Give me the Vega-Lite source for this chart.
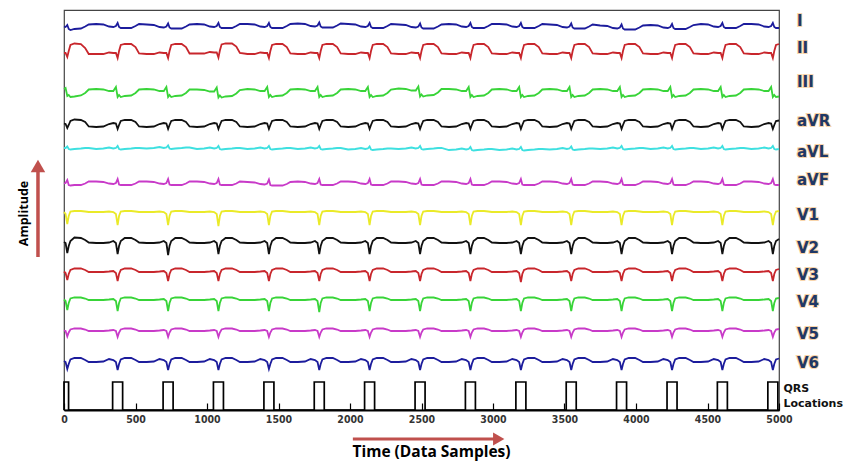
{
  "$schema": "https://vega.github.io/schema/vega-lite/v6.json",
  "width": 715,
  "height": 400,
  "autosize": "none",
  "padding": {"left": 64, "top": 10, "right": 69, "bottom": 52},
  "background": "white",
  "config": {"view": {"stroke": "#444", "strokeWidth": 1.2}},
  "datasets": {
    "ecg": [
      {"t":0,"I":383.5,"II":357,"III":321,"aVR":286.5,"aVL":262,"aVF":226.5,"V1":198,"V2":168,"V3":138.5,"V4":110.5,"V5":79.5,"V6":49},
      {"t":11,"I":383,"II":357,"III":322,"aVR":286,"aVL":262,"aVF":227,"V1":196,"V2":167,"V3":137,"V4":109,"V5":79,"V6":48},
      {"t":23,"I":385,"II":353,"III":314,"aVR":282,"aVL":263.5,"aVF":230,"V1":186,"V2":157,"V3":130,"V4":100,"V5":73.5,"V6":41},
      {"t":33,"I":381,"II":359,"III":315,"aVR":285,"aVL":261,"aVF":225,"V1":194,"V2":164,"V3":136,"V4":107,"V5":77.5,"V6":46},
      {"t":45,"I":380,"II":365,"III":313,"aVR":289,"aVL":260.5,"aVF":224.5,"V1":198.5,"V2":169,"V3":140,"V4":111.5,"V5":80.5,"V6":50.5},
      {"t":73,"I":381,"II":366.5,"III":313.5,"aVR":290.5,"aVL":261,"aVF":225,"V1":199,"V2":172.5,"V3":141.5,"V4":112.5,"V5":81.5,"V6":52},
      {"t":118,"I":381.5,"II":366,"III":314.5,"aVR":290,"aVL":261.5,"aVF":225,"V1":199,"V2":172,"V3":141.5,"V4":112.5,"V5":81.5,"V6":52},
      {"t":148,"I":383.5,"II":362,"III":317,"aVR":288,"aVL":262,"aVF":226.5,"V1":198.5,"V2":170,"V3":140,"V4":111.5,"V5":80.5,"V6":50},
      {"t":173,"I":385.5,"II":356,"III":320.5,"aVR":283.5,"aVL":262,"aVF":228.5,"V1":198,"V2":167.5,"V3":138,"V4":110,"V5":79,"V6":48},

      {"t":225,"I":386,"II":356,"III":321,"aVR":283,"aVL":261,"aVF":228.5,"V1":198,"V2":167,"V3":138,"V4":110,"V5":79,"V6":48},
      {"t":275,"I":385.5,"II":356,"III":320.5,"aVR":283.5,"aVL":261.5,"aVF":228,"V1":198,"V2":167,"V3":138,"V4":110,"V5":79,"V6":48.5},
      {"t":315,"I":383.5,"II":357.5,"III":319,"aVR":286,"aVL":262.5,"aVF":226.5,"V1":198.5,"V2":167.5,"V3":138.5,"V4":110.5,"V5":79.5,"V6":51},
      {"t":345,"I":383,"II":357,"III":319,"aVR":287,"aVL":261.5,"aVF":226,"V1":198,"V2":169,"V3":139,"V4":111,"V5":80,"V6":50},
      {"t":363,"I":384,"II":357,"III":323,"aVR":286.5,"aVL":262,"aVF":227,"V1":196,"V2":167,"V3":137,"V4":109,"V5":79,"V6":48},
      {"t":375,"I":387,"II":352,"III":313,"aVR":281,"aVL":264,"aVF":231,"V1":185,"V2":156,"V3":129,"V4":99,"V5":73,"V6":40},
      {"t":385,"I":383,"II":359,"III":315,"aVR":285,"aVL":261,"aVF":225.5,"V1":194,"V2":164,"V3":136,"V4":107,"V5":77.5,"V6":46},
      {"t":397,"I":382,"II":365,"III":313,"aVR":289,"aVL":260.5,"aVF":225,"V1":198.5,"V2":169,"V3":140,"V4":111.5,"V5":80.5,"V6":50.5},
      {"t":425,"I":382,"II":366,"III":314,"aVR":290,"aVL":261,"aVF":225,"V1":199,"V2":172,"V3":141.5,"V4":112.5,"V5":81.5,"V6":52},
      {"t":470,"I":382,"II":366,"III":314.5,"aVR":290,"aVL":261.5,"aVF":225,"V1":199,"V2":172,"V3":141.5,"V4":112.5,"V5":81.5,"V6":52},
      {"t":500,"I":384,"II":363,"III":317,"aVR":288,"aVL":262,"aVF":226.5,"V1":198.5,"V2":170,"V3":140,"V4":111.5,"V5":80.5,"V6":50},
      {"t":525,"I":386,"II":356.5,"III":320.5,"aVR":283.5,"aVL":262,"aVF":228.5,"V1":198,"V2":167.5,"V3":138,"V4":110,"V5":79,"V6":48},

      {"t":578,"I":385.5,"II":356,"III":321,"aVR":283,"aVL":261.5,"aVF":228.5,"V1":198,"V2":167,"V3":138,"V4":110,"V5":79,"V6":48},
      {"t":628,"I":385,"II":356,"III":320.5,"aVR":283.5,"aVL":262,"aVF":228,"V1":198,"V2":167,"V3":138,"V4":110,"V5":79,"V6":48.5},
      {"t":668,"I":383,"II":357.5,"III":319,"aVR":286,"aVL":263,"aVF":226.5,"V1":198.5,"V2":167.5,"V3":138.5,"V4":110.5,"V5":79.5,"V6":51},
      {"t":698,"I":382.5,"II":357,"III":319,"aVR":287,"aVL":262,"aVF":226,"V1":198,"V2":169,"V3":139,"V4":111,"V5":80,"V6":50},
      {"t":716,"I":383.5,"II":357,"III":323,"aVR":286.5,"aVL":262.5,"aVF":227,"V1":196,"V2":167,"V3":137,"V4":109,"V5":79,"V6":48},
      {"t":728,"I":386.5,"II":352,"III":313,"aVR":281,"aVL":264.5,"aVF":231,"V1":185,"V2":155,"V3":129,"V4":99,"V5":73,"V6":40},
      {"t":738,"I":382.5,"II":359,"III":315,"aVR":285,"aVL":261.5,"aVF":225.5,"V1":194,"V2":164,"V3":136,"V4":107,"V5":77.5,"V6":46},
      {"t":750,"I":381.5,"II":365,"III":313,"aVR":289,"aVL":261,"aVF":225,"V1":198.5,"V2":169,"V3":140,"V4":111.5,"V5":80.5,"V6":50.5},
      {"t":778,"I":381.5,"II":366,"III":314,"aVR":290,"aVL":261.5,"aVF":225,"V1":199,"V2":172,"V3":141.5,"V4":112.5,"V5":81.5,"V6":52},
      {"t":823,"I":381.5,"II":366,"III":314.5,"aVR":290,"aVL":262,"aVF":225,"V1":199,"V2":172,"V3":141.5,"V4":112.5,"V5":81.5,"V6":52},
      {"t":853,"I":383.5,"II":363,"III":317,"aVR":288,"aVL":262.5,"aVF":226.5,"V1":198.5,"V2":170,"V3":140,"V4":111.5,"V5":80.5,"V6":50},
      {"t":878,"I":385.5,"II":356.5,"III":320.5,"aVR":283.5,"aVL":262.5,"aVF":228.5,"V1":198,"V2":167.5,"V3":138,"V4":110,"V5":79,"V6":48},

      {"t":930,"I":386,"II":356.5,"III":320.5,"aVR":283,"aVL":261,"aVF":228.5,"V1":198,"V2":167,"V3":138,"V4":110,"V5":79,"V6":48},
      {"t":980,"I":385.5,"II":356.5,"III":320,"aVR":283.5,"aVL":261.5,"aVF":228,"V1":198,"V2":167,"V3":138,"V4":110,"V5":79,"V6":48.5},
      {"t":1020,"I":383.5,"II":358,"III":318.5,"aVR":286,"aVL":262.5,"aVF":226.5,"V1":198.5,"V2":167.5,"V3":138.5,"V4":110.5,"V5":79.5,"V6":51},
      {"t":1050,"I":383,"II":357.5,"III":318.5,"aVR":287,"aVL":261.5,"aVF":226,"V1":198,"V2":169,"V3":139,"V4":111,"V5":80,"V6":50},
      {"t":1068,"I":384,"II":357.5,"III":322.5,"aVR":286.5,"aVL":262,"aVF":227,"V1":196,"V2":167,"V3":137,"V4":109,"V5":79,"V6":48},
      {"t":1080,"I":387,"II":352.5,"III":312.5,"aVR":281,"aVL":264,"aVF":231,"V1":184,"V2":156,"V3":129,"V4":99,"V5":73,"V6":40},
      {"t":1090,"I":383,"II":359.5,"III":314.5,"aVR":285,"aVL":261,"aVF":225.5,"V1":194,"V2":164,"V3":136,"V4":107,"V5":77.5,"V6":46},
      {"t":1102,"I":382,"II":365.5,"III":312.5,"aVR":289,"aVL":260.5,"aVF":225,"V1":198.5,"V2":169,"V3":140,"V4":111.5,"V5":80.5,"V6":50.5},
      {"t":1130,"I":382,"II":366.5,"III":313.5,"aVR":290,"aVL":261,"aVF":225,"V1":199,"V2":172,"V3":141.5,"V4":112.5,"V5":81.5,"V6":52},
      {"t":1175,"I":382,"II":366.5,"III":314,"aVR":290,"aVL":261.5,"aVF":225,"V1":199,"V2":172,"V3":141.5,"V4":112.5,"V5":81.5,"V6":52},
      {"t":1205,"I":384,"II":363.5,"III":316.5,"aVR":288,"aVL":262,"aVF":226.5,"V1":198.5,"V2":170,"V3":140,"V4":111.5,"V5":80.5,"V6":50},
      {"t":1230,"I":386,"II":357,"III":320,"aVR":283.5,"aVL":262,"aVF":228.5,"V1":198,"V2":167.5,"V3":138,"V4":110,"V5":79,"V6":48},

      {"t":1283,"I":386,"II":356,"III":321,"aVR":283,"aVL":261,"aVF":228,"V1":198,"V2":167,"V3":138,"V4":110,"V5":79,"V6":48},
      {"t":1333,"I":385.5,"II":356,"III":320.5,"aVR":283.5,"aVL":261.5,"aVF":227.5,"V1":198,"V2":167,"V3":138,"V4":110,"V5":79,"V6":48.5},
      {"t":1373,"I":383.5,"II":357.5,"III":319,"aVR":286,"aVL":262.5,"aVF":226,"V1":198.5,"V2":167.5,"V3":138.5,"V4":110.5,"V5":79.5,"V6":51},
      {"t":1403,"I":383,"II":357,"III":319,"aVR":287,"aVL":261.5,"aVF":225.5,"V1":198,"V2":169,"V3":139,"V4":111,"V5":80,"V6":50},
      {"t":1421,"I":384,"II":357,"III":323,"aVR":286.5,"aVL":262,"aVF":226.5,"V1":196,"V2":167,"V3":137,"V4":109,"V5":79,"V6":48},
      {"t":1433,"I":387,"II":352,"III":313,"aVR":281,"aVL":264,"aVF":230.5,"V1":185,"V2":156,"V3":129,"V4":99,"V5":73,"V6":41},
      {"t":1443,"I":383,"II":359,"III":315,"aVR":285,"aVL":261,"aVF":225,"V1":194,"V2":164,"V3":136,"V4":107,"V5":77.5,"V6":46},
      {"t":1455,"I":382,"II":365,"III":313,"aVR":289,"aVL":260.5,"aVF":224.5,"V1":198.5,"V2":169,"V3":140,"V4":111.5,"V5":80.5,"V6":50.5},
      {"t":1483,"I":382,"II":366,"III":314,"aVR":290,"aVL":261,"aVF":224.5,"V1":199,"V2":172,"V3":141.5,"V4":112.5,"V5":81.5,"V6":52},
      {"t":1528,"I":382,"II":366,"III":314.5,"aVR":290,"aVL":261.5,"aVF":224.5,"V1":199,"V2":172,"V3":141.5,"V4":112.5,"V5":81.5,"V6":52},
      {"t":1558,"I":384,"II":363,"III":317,"aVR":288,"aVL":262,"aVF":226,"V1":198.5,"V2":170,"V3":140,"V4":111.5,"V5":80.5,"V6":50},
      {"t":1583,"I":386,"II":356.5,"III":320.5,"aVR":283.5,"aVL":262,"aVF":228,"V1":198,"V2":167.5,"V3":138,"V4":110,"V5":79,"V6":48},

      {"t":1635,"I":386.5,"II":356,"III":321,"aVR":283,"aVL":261,"aVF":228.5,"V1":198,"V2":167,"V3":138,"V4":110,"V5":79,"V6":48},
      {"t":1685,"I":386,"II":356,"III":320.5,"aVR":283.5,"aVL":261.5,"aVF":228,"V1":198,"V2":167,"V3":138,"V4":110,"V5":79,"V6":48.5},
      {"t":1725,"I":384,"II":357.5,"III":319,"aVR":286,"aVL":262.5,"aVF":226.5,"V1":198.5,"V2":167.5,"V3":138.5,"V4":110.5,"V5":79.5,"V6":51},
      {"t":1755,"I":383.5,"II":357,"III":319,"aVR":287,"aVL":261.5,"aVF":226,"V1":198,"V2":169,"V3":139,"V4":111,"V5":80,"V6":50},
      {"t":1773,"I":384.5,"II":357,"III":323,"aVR":286.5,"aVL":262,"aVF":227,"V1":196,"V2":167,"V3":137,"V4":109,"V5":79,"V6":48},
      {"t":1785,"I":387.5,"II":352,"III":313,"aVR":281,"aVL":264,"aVF":231,"V1":185,"V2":156,"V3":129,"V4":98,"V5":73,"V6":40},
      {"t":1795,"I":383.5,"II":359,"III":315,"aVR":285,"aVL":261,"aVF":225.5,"V1":194,"V2":164,"V3":136,"V4":107,"V5":77.5,"V6":46},
      {"t":1807,"I":382.5,"II":365,"III":313,"aVR":289,"aVL":260.5,"aVF":225,"V1":198.5,"V2":169,"V3":140,"V4":111.5,"V5":80.5,"V6":50.5},
      {"t":1835,"I":382.5,"II":366,"III":314,"aVR":290,"aVL":261,"aVF":225,"V1":199,"V2":172,"V3":141.5,"V4":112.5,"V5":81.5,"V6":52},
      {"t":1880,"I":382.5,"II":366,"III":314.5,"aVR":290,"aVL":261.5,"aVF":225,"V1":199,"V2":172,"V3":141.5,"V4":112.5,"V5":81.5,"V6":52},
      {"t":1910,"I":384.5,"II":363,"III":317,"aVR":288,"aVL":262,"aVF":226.5,"V1":198.5,"V2":170,"V3":140,"V4":111.5,"V5":80.5,"V6":50},
      {"t":1935,"I":386.5,"II":356.5,"III":320.5,"aVR":283.5,"aVL":262,"aVF":228.5,"V1":198,"V2":167.5,"V3":138,"V4":110,"V5":79,"V6":48},

      {"t":1987,"I":386,"II":356,"III":321,"aVR":283,"aVL":260.5,"aVF":228.5,"V1":198,"V2":167,"V3":138,"V4":110,"V5":79,"V6":48},
      {"t":2037,"I":385.5,"II":356,"III":320.5,"aVR":283.5,"aVL":261,"aVF":228,"V1":198,"V2":167,"V3":138,"V4":110,"V5":79,"V6":48.5},
      {"t":2077,"I":383.5,"II":357.5,"III":319,"aVR":286,"aVL":262,"aVF":226.5,"V1":198.5,"V2":167.5,"V3":138.5,"V4":110.5,"V5":79.5,"V6":51},
      {"t":2107,"I":383,"II":357,"III":319,"aVR":287,"aVL":261,"aVF":226,"V1":198,"V2":169,"V3":139,"V4":111,"V5":80,"V6":50},
      {"t":2125,"I":384,"II":357,"III":323,"aVR":286.5,"aVL":261.5,"aVF":227,"V1":196,"V2":167,"V3":137,"V4":109,"V5":79,"V6":48},
      {"t":2137,"I":387,"II":352,"III":313,"aVR":281,"aVL":263.5,"aVF":231,"V1":185,"V2":156,"V3":129,"V4":99,"V5":73,"V6":40},
      {"t":2147,"I":383,"II":359,"III":315,"aVR":285,"aVL":260.5,"aVF":225.5,"V1":194,"V2":164,"V3":136,"V4":107,"V5":77.5,"V6":46},
      {"t":2159,"I":382,"II":365,"III":313,"aVR":289,"aVL":260,"aVF":225,"V1":198.5,"V2":169,"V3":140,"V4":111.5,"V5":80.5,"V6":50.5},
      {"t":2187,"I":382,"II":366,"III":314,"aVR":290,"aVL":260.5,"aVF":225,"V1":199,"V2":172,"V3":141.5,"V4":112.5,"V5":81.5,"V6":52},
      {"t":2232,"I":382,"II":366,"III":314.5,"aVR":290,"aVL":261,"aVF":225,"V1":199,"V2":172,"V3":141.5,"V4":112.5,"V5":81.5,"V6":52},
      {"t":2262,"I":384,"II":363,"III":317,"aVR":288,"aVL":261.5,"aVF":226.5,"V1":198.5,"V2":170,"V3":140,"V4":111.5,"V5":80.5,"V6":50},
      {"t":2287,"I":386,"II":356.5,"III":320.5,"aVR":283.5,"aVL":261.5,"aVF":228.5,"V1":198,"V2":167.5,"V3":138,"V4":110,"V5":79,"V6":48},

      {"t":2340,"I":385.5,"II":356,"III":321.5,"aVR":283,"aVL":261,"aVF":228.5,"V1":198,"V2":167,"V3":138,"V4":110,"V5":79,"V6":48},
      {"t":2390,"I":385,"II":356,"III":321,"aVR":283.5,"aVL":261.5,"aVF":228,"V1":198,"V2":167,"V3":138,"V4":110,"V5":79,"V6":48.5},
      {"t":2430,"I":383,"II":357.5,"III":319.5,"aVR":286,"aVL":262.5,"aVF":226.5,"V1":198.5,"V2":167.5,"V3":138.5,"V4":110.5,"V5":79.5,"V6":51},
      {"t":2460,"I":382.5,"II":357,"III":319.5,"aVR":287,"aVL":261.5,"aVF":226,"V1":198,"V2":169,"V3":139,"V4":111,"V5":80,"V6":50},
      {"t":2478,"I":383.5,"II":357,"III":323.5,"aVR":286.5,"aVL":262,"aVF":227,"V1":196,"V2":167,"V3":137,"V4":109,"V5":79,"V6":48},
      {"t":2490,"I":386.5,"II":352,"III":313.5,"aVR":281,"aVL":264,"aVF":231,"V1":185,"V2":156,"V3":129,"V4":99,"V5":73,"V6":40},
      {"t":2500,"I":382.5,"II":359,"III":315.5,"aVR":285,"aVL":261,"aVF":225.5,"V1":194,"V2":164,"V3":136,"V4":107,"V5":77.5,"V6":46},
      {"t":2512,"I":381.5,"II":365,"III":313.5,"aVR":289,"aVL":260.5,"aVF":225,"V1":198.5,"V2":169,"V3":140,"V4":111.5,"V5":80.5,"V6":50.5},
      {"t":2540,"I":381.5,"II":366,"III":314.5,"aVR":290,"aVL":261,"aVF":225,"V1":199,"V2":172,"V3":141.5,"V4":112.5,"V5":81.5,"V6":52},
      {"t":2585,"I":381.5,"II":366,"III":315,"aVR":290,"aVL":261.5,"aVF":225,"V1":199,"V2":172,"V3":141.5,"V4":112.5,"V5":81.5,"V6":52},
      {"t":2615,"I":383.5,"II":363,"III":317.5,"aVR":288,"aVL":262,"aVF":226.5,"V1":198.5,"V2":170,"V3":140,"V4":111.5,"V5":80.5,"V6":50},
      {"t":2640,"I":385.5,"II":356.5,"III":321,"aVR":283.5,"aVL":262,"aVF":228.5,"V1":198,"V2":167.5,"V3":138,"V4":110,"V5":79,"V6":48},

      {"t":2692,"I":386,"II":356,"III":321,"aVR":283,"aVL":260,"aVF":228.5,"V1":198,"V2":167,"V3":138,"V4":110,"V5":79,"V6":48},
      {"t":2742,"I":385.5,"II":356,"III":320.5,"aVR":283.5,"aVL":260.5,"aVF":228,"V1":198,"V2":167,"V3":138,"V4":110,"V5":79,"V6":48.5},
      {"t":2782,"I":383.5,"II":357.5,"III":319,"aVR":286,"aVL":261.5,"aVF":226.5,"V1":198.5,"V2":167.5,"V3":138.5,"V4":110.5,"V5":79.5,"V6":51},
      {"t":2812,"I":383,"II":357,"III":319,"aVR":287,"aVL":260.5,"aVF":226,"V1":198,"V2":169,"V3":139,"V4":111,"V5":80,"V6":50},
      {"t":2830,"I":384,"II":357,"III":323,"aVR":286.5,"aVL":261,"aVF":227,"V1":196,"V2":167,"V3":137,"V4":109,"V5":79,"V6":48},
      {"t":2842,"I":387,"II":352,"III":313,"aVR":281,"aVL":263,"aVF":231,"V1":185,"V2":156,"V3":129,"V4":99,"V5":73,"V6":40},
      {"t":2852,"I":383,"II":359,"III":315,"aVR":285,"aVL":260,"aVF":225.5,"V1":194,"V2":164,"V3":136,"V4":107,"V5":77.5,"V6":46},
      {"t":2864,"I":382,"II":365,"III":313,"aVR":289,"aVL":259.5,"aVF":225,"V1":198.5,"V2":169,"V3":140,"V4":111.5,"V5":80.5,"V6":50.5},
      {"t":2892,"I":382,"II":366,"III":314,"aVR":290,"aVL":260,"aVF":225,"V1":199,"V2":172,"V3":141.5,"V4":112.5,"V5":81.5,"V6":52},
      {"t":2937,"I":382,"II":366,"III":314.5,"aVR":290,"aVL":260.5,"aVF":225,"V1":199,"V2":172,"V3":141.5,"V4":112.5,"V5":81.5,"V6":52},
      {"t":2967,"I":384,"II":363,"III":317,"aVR":288,"aVL":261,"aVF":226.5,"V1":198.5,"V2":170,"V3":140,"V4":111.5,"V5":80.5,"V6":50},
      {"t":2992,"I":386,"II":356.5,"III":320.5,"aVR":283.5,"aVL":261,"aVF":228.5,"V1":198,"V2":167.5,"V3":138,"V4":110,"V5":79,"V6":48},

      {"t":3045,"I":386,"II":356,"III":321,"aVR":283,"aVL":260,"aVF":228.5,"V1":198,"V2":167,"V3":138,"V4":110,"V5":79,"V6":48},
      {"t":3095,"I":385.5,"II":356,"III":320.5,"aVR":283.5,"aVL":260.5,"aVF":228,"V1":198,"V2":167,"V3":138,"V4":110,"V5":79,"V6":48.5},
      {"t":3135,"I":383.5,"II":357.5,"III":319,"aVR":286,"aVL":261.5,"aVF":226.5,"V1":198.5,"V2":167.5,"V3":138.5,"V4":110.5,"V5":79.5,"V6":51},
      {"t":3165,"I":383,"II":357,"III":319,"aVR":287,"aVL":260.5,"aVF":226,"V1":198,"V2":169,"V3":139,"V4":111,"V5":80,"V6":50},
      {"t":3183,"I":384,"II":357,"III":323,"aVR":286.5,"aVL":261,"aVF":227,"V1":196,"V2":167,"V3":137,"V4":109,"V5":79,"V6":48},
      {"t":3195,"I":387,"II":352,"III":313,"aVR":281,"aVL":263,"aVF":231,"V1":185,"V2":156,"V3":128,"V4":99,"V5":73,"V6":40},
      {"t":3205,"I":383,"II":359,"III":315,"aVR":285,"aVL":260,"aVF":225.5,"V1":194,"V2":164,"V3":136,"V4":107,"V5":77.5,"V6":46},
      {"t":3217,"I":382,"II":365,"III":313,"aVR":289,"aVL":259.5,"aVF":225,"V1":198.5,"V2":169,"V3":140,"V4":111.5,"V5":80.5,"V6":50.5},
      {"t":3245,"I":382,"II":366,"III":314,"aVR":290,"aVL":260,"aVF":225,"V1":199,"V2":172,"V3":141.5,"V4":112.5,"V5":81.5,"V6":52},
      {"t":3290,"I":382,"II":366,"III":314.5,"aVR":290,"aVL":260.5,"aVF":225,"V1":199,"V2":172,"V3":141.5,"V4":112.5,"V5":81.5,"V6":52},
      {"t":3320,"I":384,"II":363,"III":317,"aVR":288,"aVL":261,"aVF":226.5,"V1":198.5,"V2":170,"V3":140,"V4":111.5,"V5":80.5,"V6":50},
      {"t":3345,"I":386,"II":356.5,"III":320.5,"aVR":283.5,"aVL":261,"aVF":228.5,"V1":198,"V2":167.5,"V3":138,"V4":110,"V5":79,"V6":48},

      {"t":3397,"I":385.5,"II":356,"III":321,"aVR":283,"aVL":260.5,"aVF":228.5,"V1":198,"V2":167,"V3":138,"V4":110,"V5":79,"V6":48},
      {"t":3447,"I":385,"II":356,"III":320.5,"aVR":283.5,"aVL":261,"aVF":228,"V1":198,"V2":167,"V3":138,"V4":110,"V5":79,"V6":48.5},
      {"t":3487,"I":383,"II":357.5,"III":319,"aVR":286,"aVL":262,"aVF":226.5,"V1":198.5,"V2":167.5,"V3":138.5,"V4":110.5,"V5":79.5,"V6":51},
      {"t":3517,"I":382.5,"II":357,"III":319,"aVR":287,"aVL":261,"aVF":226,"V1":198,"V2":169,"V3":139,"V4":111,"V5":80,"V6":50},
      {"t":3535,"I":383.5,"II":357,"III":323,"aVR":286.5,"aVL":261.5,"aVF":227,"V1":196,"V2":167,"V3":137,"V4":109,"V5":79,"V6":48},
      {"t":3547,"I":386.5,"II":352,"III":313,"aVR":281,"aVL":263.5,"aVF":231,"V1":185,"V2":156,"V3":129,"V4":99,"V5":73,"V6":40},
      {"t":3557,"I":382.5,"II":359,"III":315,"aVR":285,"aVL":260.5,"aVF":225.5,"V1":194,"V2":164,"V3":136,"V4":107,"V5":77.5,"V6":46},
      {"t":3569,"I":381.5,"II":365,"III":313,"aVR":289,"aVL":260,"aVF":225,"V1":198.5,"V2":169,"V3":140,"V4":111.5,"V5":80.5,"V6":50.5},
      {"t":3597,"I":381.5,"II":366,"III":314,"aVR":290,"aVL":260.5,"aVF":225,"V1":199,"V2":172,"V3":141.5,"V4":112.5,"V5":81.5,"V6":52},
      {"t":3642,"I":381.5,"II":366,"III":314.5,"aVR":290,"aVL":261,"aVF":225,"V1":199,"V2":172,"V3":141.5,"V4":112.5,"V5":81.5,"V6":52},
      {"t":3672,"I":383.5,"II":363,"III":317,"aVR":288,"aVL":261.5,"aVF":226.5,"V1":198.5,"V2":170,"V3":140,"V4":111.5,"V5":80.5,"V6":50},
      {"t":3697,"I":385.5,"II":356.5,"III":320.5,"aVR":283.5,"aVL":261.5,"aVF":228.5,"V1":198,"V2":167.5,"V3":138,"V4":110,"V5":79,"V6":48},

      {"t":3749,"I":384.5,"II":356,"III":321,"aVR":283,"aVL":261,"aVF":228.5,"V1":198,"V2":167,"V3":138,"V4":110,"V5":79,"V6":48},
      {"t":3799,"I":384,"II":356,"III":320.5,"aVR":283.5,"aVL":261.5,"aVF":228,"V1":198,"V2":167,"V3":138,"V4":110,"V5":79,"V6":48.5},
      {"t":3839,"I":382,"II":357.5,"III":319,"aVR":286,"aVL":262.5,"aVF":226.5,"V1":198.5,"V2":167.5,"V3":138.5,"V4":110.5,"V5":79.5,"V6":51},
      {"t":3869,"I":381.5,"II":357,"III":319,"aVR":287,"aVL":261.5,"aVF":226,"V1":198,"V2":169,"V3":139,"V4":111,"V5":80,"V6":50},
      {"t":3887,"I":382.5,"II":357,"III":323,"aVR":286.5,"aVL":262,"aVF":227,"V1":196,"V2":167,"V3":137,"V4":109,"V5":79,"V6":48},
      {"t":3899,"I":385.5,"II":352,"III":313,"aVR":281,"aVL":264,"aVF":231,"V1":185,"V2":156,"V3":129,"V4":99,"V5":73,"V6":40},
      {"t":3909,"I":381.5,"II":359,"III":315,"aVR":285,"aVL":261,"aVF":225.5,"V1":194,"V2":164,"V3":136,"V4":107,"V5":77.5,"V6":46},
      {"t":3921,"I":380.5,"II":365,"III":313,"aVR":289,"aVL":260.5,"aVF":225,"V1":198.5,"V2":169,"V3":140,"V4":111.5,"V5":80.5,"V6":50.5},
      {"t":3949,"I":380.5,"II":366,"III":314,"aVR":290,"aVL":261,"aVF":225,"V1":199,"V2":172,"V3":141.5,"V4":112.5,"V5":81.5,"V6":52},
      {"t":3994,"I":380.5,"II":366,"III":314.5,"aVR":290,"aVL":261.5,"aVF":225,"V1":199,"V2":172,"V3":141.5,"V4":112.5,"V5":81.5,"V6":52},
      {"t":4024,"I":382.5,"II":363,"III":317,"aVR":288,"aVL":262,"aVF":226.5,"V1":198.5,"V2":170,"V3":140,"V4":111.5,"V5":80.5,"V6":50},
      {"t":4049,"I":384.5,"II":356.5,"III":320.5,"aVR":283.5,"aVL":262,"aVF":228.5,"V1":198,"V2":167.5,"V3":138,"V4":110,"V5":79,"V6":48},

      {"t":4102,"I":385,"II":356,"III":321,"aVR":283,"aVL":261,"aVF":228.5,"V1":198,"V2":167,"V3":138,"V4":110,"V5":79,"V6":48},
      {"t":4152,"I":384.5,"II":356,"III":320.5,"aVR":283.5,"aVL":261.5,"aVF":228,"V1":198,"V2":167,"V3":138,"V4":110,"V5":79,"V6":48.5},
      {"t":4192,"I":382.5,"II":357.5,"III":319,"aVR":286,"aVL":262.5,"aVF":226.5,"V1":198.5,"V2":167.5,"V3":138.5,"V4":110.5,"V5":79.5,"V6":51},
      {"t":4222,"I":382,"II":357,"III":319,"aVR":287,"aVL":261.5,"aVF":226,"V1":198,"V2":169,"V3":139,"V4":111,"V5":80,"V6":50},
      {"t":4240,"I":383,"II":357,"III":323,"aVR":286.5,"aVL":262,"aVF":227,"V1":196,"V2":167,"V3":137,"V4":109,"V5":79,"V6":48},
      {"t":4252,"I":386,"II":352,"III":313,"aVR":281,"aVL":264,"aVF":231,"V1":185,"V2":156,"V3":129,"V4":99,"V5":73,"V6":40},
      {"t":4262,"I":382,"II":359,"III":315,"aVR":285,"aVL":261,"aVF":225.5,"V1":194,"V2":164,"V3":136,"V4":107,"V5":77.5,"V6":46},
      {"t":4274,"I":381,"II":365,"III":313,"aVR":289,"aVL":260.5,"aVF":225,"V1":198.5,"V2":169,"V3":140,"V4":111.5,"V5":80.5,"V6":50.5},
      {"t":4302,"I":381,"II":366,"III":314,"aVR":290,"aVL":261,"aVF":225,"V1":199,"V2":172,"V3":141.5,"V4":112.5,"V5":81.5,"V6":52},
      {"t":4347,"I":381,"II":366,"III":314.5,"aVR":290,"aVL":261.5,"aVF":225,"V1":199,"V2":172,"V3":141.5,"V4":112.5,"V5":81.5,"V6":52},
      {"t":4377,"I":383,"II":363,"III":317,"aVR":288,"aVL":262,"aVF":226.5,"V1":198.5,"V2":170,"V3":140,"V4":111.5,"V5":80.5,"V6":50},
      {"t":4402,"I":385,"II":356.5,"III":320.5,"aVR":283.5,"aVL":262,"aVF":228.5,"V1":198,"V2":167.5,"V3":138,"V4":110,"V5":79,"V6":48},

      {"t":4454,"I":386,"II":356,"III":321,"aVR":283,"aVL":261,"aVF":228.5,"V1":198,"V2":167,"V3":138,"V4":110,"V5":79,"V6":48},
      {"t":4504,"I":385.5,"II":356,"III":320.5,"aVR":283.5,"aVL":261.5,"aVF":228,"V1":198,"V2":167,"V3":138,"V4":110,"V5":79,"V6":48.5},
      {"t":4544,"I":383.5,"II":357.5,"III":319,"aVR":286,"aVL":262.5,"aVF":226.5,"V1":198.5,"V2":167.5,"V3":138.5,"V4":110.5,"V5":79.5,"V6":51},
      {"t":4574,"I":383,"II":357,"III":319,"aVR":287,"aVL":261.5,"aVF":226,"V1":198,"V2":169,"V3":139,"V4":111,"V5":80,"V6":50},
      {"t":4592,"I":384,"II":357,"III":323,"aVR":286.5,"aVL":262,"aVF":227,"V1":196,"V2":167,"V3":137,"V4":109,"V5":79,"V6":48},
      {"t":4604,"I":387,"II":352,"III":313,"aVR":281,"aVL":264,"aVF":231,"V1":185,"V2":156,"V3":129,"V4":99,"V5":73,"V6":40},
      {"t":4614,"I":383,"II":359,"III":315,"aVR":285,"aVL":261,"aVF":225.5,"V1":194,"V2":164,"V3":136,"V4":107,"V5":77.5,"V6":46},
      {"t":4626,"I":382,"II":365,"III":313,"aVR":289,"aVL":260.5,"aVF":225,"V1":198.5,"V2":169,"V3":140,"V4":111.5,"V5":80.5,"V6":50.5},
      {"t":4654,"I":382,"II":366,"III":314,"aVR":290,"aVL":261,"aVF":225,"V1":199,"V2":172,"V3":141.5,"V4":112.5,"V5":81.5,"V6":52},
      {"t":4699,"I":382,"II":366,"III":314.5,"aVR":290,"aVL":261.5,"aVF":225,"V1":199,"V2":172,"V3":141.5,"V4":112.5,"V5":81.5,"V6":52},
      {"t":4729,"I":384,"II":363,"III":317,"aVR":288,"aVL":262,"aVF":226.5,"V1":198.5,"V2":170,"V3":140,"V4":111.5,"V5":80.5,"V6":50},
      {"t":4754,"I":386,"II":356.5,"III":320.5,"aVR":283.5,"aVL":262,"aVF":228.5,"V1":198,"V2":167.5,"V3":138,"V4":110,"V5":79,"V6":48},

      {"t":4807,"I":386,"II":356,"III":321,"aVR":283,"aVL":261,"aVF":228.5,"V1":198,"V2":167,"V3":138,"V4":110,"V5":79,"V6":48},
      {"t":4857,"I":385.5,"II":356,"III":320.5,"aVR":283.5,"aVL":261.5,"aVF":228,"V1":198,"V2":167,"V3":138,"V4":110,"V5":79,"V6":48.5},
      {"t":4897,"I":383.5,"II":357.5,"III":319,"aVR":286,"aVL":262.5,"aVF":226.5,"V1":198.5,"V2":167.5,"V3":138.5,"V4":110.5,"V5":79.5,"V6":51},
      {"t":4927,"I":383,"II":357,"III":319,"aVR":287,"aVL":261.5,"aVF":226,"V1":198,"V2":169,"V3":139,"V4":111,"V5":80,"V6":50},
      {"t":4945,"I":384,"II":357,"III":323,"aVR":286.5,"aVL":262,"aVF":227,"V1":196,"V2":167,"V3":137,"V4":109,"V5":79,"V6":48},
      {"t":4957,"I":387,"II":352,"III":313,"aVR":281,"aVL":264,"aVF":231,"V1":185,"V2":156,"V3":129,"V4":99,"V5":73,"V6":40},
      {"t":4967,"I":383,"II":359,"III":315,"aVR":285,"aVL":261,"aVF":225.5,"V1":194,"V2":164,"V3":136,"V4":107,"V5":77.5,"V6":46},
      {"t":4979,"I":382,"II":365,"III":313,"aVR":289,"aVL":260.5,"aVF":225,"V1":198.5,"V2":169,"V3":140,"V4":111.5,"V5":80.5,"V6":50.5},
      {"t":5000,"I":382,"II":366,"III":313.5,"aVR":289.5,"aVL":261,"aVF":225,"V1":199,"V2":171,"V3":141,"V4":112,"V5":81,"V6":51.5}
    ],
    "qrs": [
      {"t":0,"q":0},{"t":0,"q":28},{"t":32,"q":28},{"t":32,"q":0},
      {"t":340,"q":0},{"t":340,"q":28},{"t":410,"q":28},{"t":410,"q":0},
      {"t":693,"q":0},{"t":693,"q":28},{"t":763,"q":28},{"t":763,"q":0},
      {"t":1045,"q":0},{"t":1045,"q":28},{"t":1115,"q":28},{"t":1115,"q":0},
      {"t":1398,"q":0},{"t":1398,"q":28},{"t":1468,"q":28},{"t":1468,"q":0},
      {"t":1750,"q":0},{"t":1750,"q":28},{"t":1820,"q":28},{"t":1820,"q":0},
      {"t":2102,"q":0},{"t":2102,"q":28},{"t":2172,"q":28},{"t":2172,"q":0},
      {"t":2455,"q":0},{"t":2455,"q":28},{"t":2525,"q":28},{"t":2525,"q":0},
      {"t":2807,"q":0},{"t":2807,"q":28},{"t":2877,"q":28},{"t":2877,"q":0},
      {"t":3160,"q":0},{"t":3160,"q":28},{"t":3230,"q":28},{"t":3230,"q":0},
      {"t":3512,"q":0},{"t":3512,"q":28},{"t":3582,"q":28},{"t":3582,"q":0},
      {"t":3864,"q":0},{"t":3864,"q":28},{"t":3934,"q":28},{"t":3934,"q":0},
      {"t":4217,"q":0},{"t":4217,"q":28},{"t":4287,"q":28},{"t":4287,"q":0},
      {"t":4569,"q":0},{"t":4569,"q":28},{"t":4639,"q":28},{"t":4639,"q":0},
      {"t":4922,"q":0},{"t":4922,"q":28},{"t":4992,"q":28},{"t":4992,"q":0},
      {"t":5000,"q":0}
    ],
    "labels": [
      {"name":"I","y":384},{"name":"II","y":357},{"name":"III","y":323},
      {"name":"aVR","y":284},{"name":"aVL","y":253},{"name":"aVF","y":225},
      {"name":"V1","y":190},{"name":"V2","y":157},{"name":"V3","y":130},
      {"name":"V4","y":103},{"name":"V5","y":71},{"name":"V6","y":42}
    ],
    "qrslabel": [
      {"name":"QRS","y":18},{"name":"Locations","y":3}
    ],
    "one": [{"k": 1}]
  },
  "layer": [
    {
      "data": {"name": "ecg"},
      "transform": [{"fold": ["I","II","III","aVR","aVL","aVF","V1","V2","V3","V4","V5","V6"], "as": ["lead","v"]}],
      "mark": {"type": "line", "strokeWidth": 1.8, "interpolate": "linear"},
      "encoding": {
        "x": {"field": "t", "type": "quantitative",
          "scale": {"domain": [0, 5000], "nice": false, "zero": false},
          "axis": {"values": [0,500,1000,1500,2000,2500,3000,3500,4000,4500,5000], "format": "d",
            "labelFont": "Liberation Sans Narrow, DejaVu Sans Condensed, Liberation Sans, sans-serif", "labelFontSize": 10.5, "labelFontWeight": "bold", "labelColor": "#333",
            "labelFlush": false, "labelOverlap": false, "labelPadding": 11,
            "domainColor": "#000", "domainWidth": 2.2, "tickColor": "#000", "tickSize": -7, "tickWidth": 1.2,
            "grid": false,
            "title": "Time (Data Samples)", "titleFont": "Open Sans", "titleFontSize": 15.5, "titleFontWeight": "bold",
            "titleColor": "#000", "titleX": 367, "titleY": 46, "titleAlign": "center", "titleBaseline": "alphabetic"}},
        "y": {"field": "v", "type": "quantitative",
          "scale": {"domain": [0, 400], "nice": false, "zero": false},
          "axis": {"domain": false, "ticks": false, "labels": false, "grid": false,
            "title": "Amplitude", "titleFont": "Open Sans", "titleFontSize": 12.5, "titleFontWeight": "bold",
            "titleColor": "#000", "titleX": -37, "titleY": 203, "titleAngle": -90, "titleAlign": "center", "titleBaseline": "alphabetic"}},
        "color": {"field": "lead", "type": "nominal", "legend": null,
          "scale": {"domain": ["I","II","III","aVR","aVL","aVF","V1","V2","V3","V4","V5","V6"],
            "range": ["#1c1c9c","#c8262c","#38d438","#111111","#3ee0e0","#c83ac8","#eaea28","#111111","#c8262c","#38d438","#c83ac8","#1c1c9c"]}},
        "detail": {"field": "lead"}
      }
    },
    {
      "data": {"name": "qrs"},
      "mark": {"type": "line", "strokeWidth": 1.7, "color": "#000"},
      "encoding": {
        "x": {"field": "t", "type": "quantitative", "scale": {"domain": [0, 5000], "nice": false, "zero": false}},
        "y": {"field": "q", "type": "quantitative", "scale": {"domain": [0, 400], "nice": false, "zero": false}},
        "order": {"value": null}
      }
    },
    {
      "data": {"name": "labels"},
      "mark": {"type": "text", "align": "left", "baseline": "alphabetic", "dx": 18, "font": "DejaVu Sans", "fontSize": 15, "fontWeight": "bold",
        "fill": "#f0a040", "stroke": "#f0a040", "strokeWidth": 2.2, "strokeOpacity": 0.45, "fillOpacity": 0.6},
      "encoding": {
        "x": {"datum": 5000, "type": "quantitative", "scale": {"domain": [0, 5000], "nice": false, "zero": false}},
        "y": {"field": "y", "type": "quantitative", "scale": {"domain": [0, 400], "nice": false, "zero": false}},
        "text": {"field": "name"}
      }
    },
    {
      "data": {"name": "labels"},
      "mark": {"type": "text", "align": "left", "baseline": "alphabetic", "dx": 18, "font": "DejaVu Sans", "fontSize": 15, "fontWeight": "bold", "color": "#1f3866"},
      "encoding": {
        "x": {"datum": 5000, "type": "quantitative", "scale": {"domain": [0, 5000], "nice": false, "zero": false}},
        "y": {"field": "y", "type": "quantitative", "scale": {"domain": [0, 400], "nice": false, "zero": false}},
        "text": {"field": "name"}
      }
    },
    {
      "data": {"name": "qrslabel"},
      "mark": {"type": "text", "align": "left", "baseline": "alphabetic", "dx": 4.5, "font": "DejaVu Sans", "fontSize": 11, "fontWeight": "bold", "color": "#111"},
      "encoding": {
        "x": {"datum": 5000, "type": "quantitative", "scale": {"domain": [0, 5000], "nice": false, "zero": false}},
        "y": {"field": "y", "type": "quantitative", "scale": {"domain": [0, 400], "nice": false, "zero": false}},
        "text": {"field": "name"}
      }
    },
    {
      "data": {"name": "one"},
      "mark": {"type": "rule", "color": "#c0504d", "strokeWidth": 3},
      "encoding": {
        "x": {"datum": 2020, "type": "quantitative"},
        "x2": {"datum": 3010},
        "y": {"datum": -29, "type": "quantitative"}
      }
    },
    {
      "data": {"name": "one"},
      "mark": {"type": "point", "shape": "triangle-right", "size": 170, "filled": true, "color": "#c0504d", "opacity": 1},
      "encoding": {
        "x": {"datum": 3040, "type": "quantitative"},
        "y": {"datum": -29, "type": "quantitative"}
      }
    },
    {
      "data": {"name": "one"},
      "mark": {"type": "rule", "color": "#c0504d", "strokeWidth": 3.5},
      "encoding": {
        "x": {"datum": -182, "type": "quantitative"},
        "y": {"datum": 153, "type": "quantitative"},
        "y2": {"datum": 240}
      }
    },
    {
      "data": {"name": "one"},
      "mark": {"type": "point", "shape": "triangle-up", "size": 210, "filled": true, "color": "#c0504d", "opacity": 1},
      "encoding": {
        "x": {"datum": -182, "type": "quantitative"},
        "y": {"datum": 244, "type": "quantitative"}
      }
    }
  ]
}
